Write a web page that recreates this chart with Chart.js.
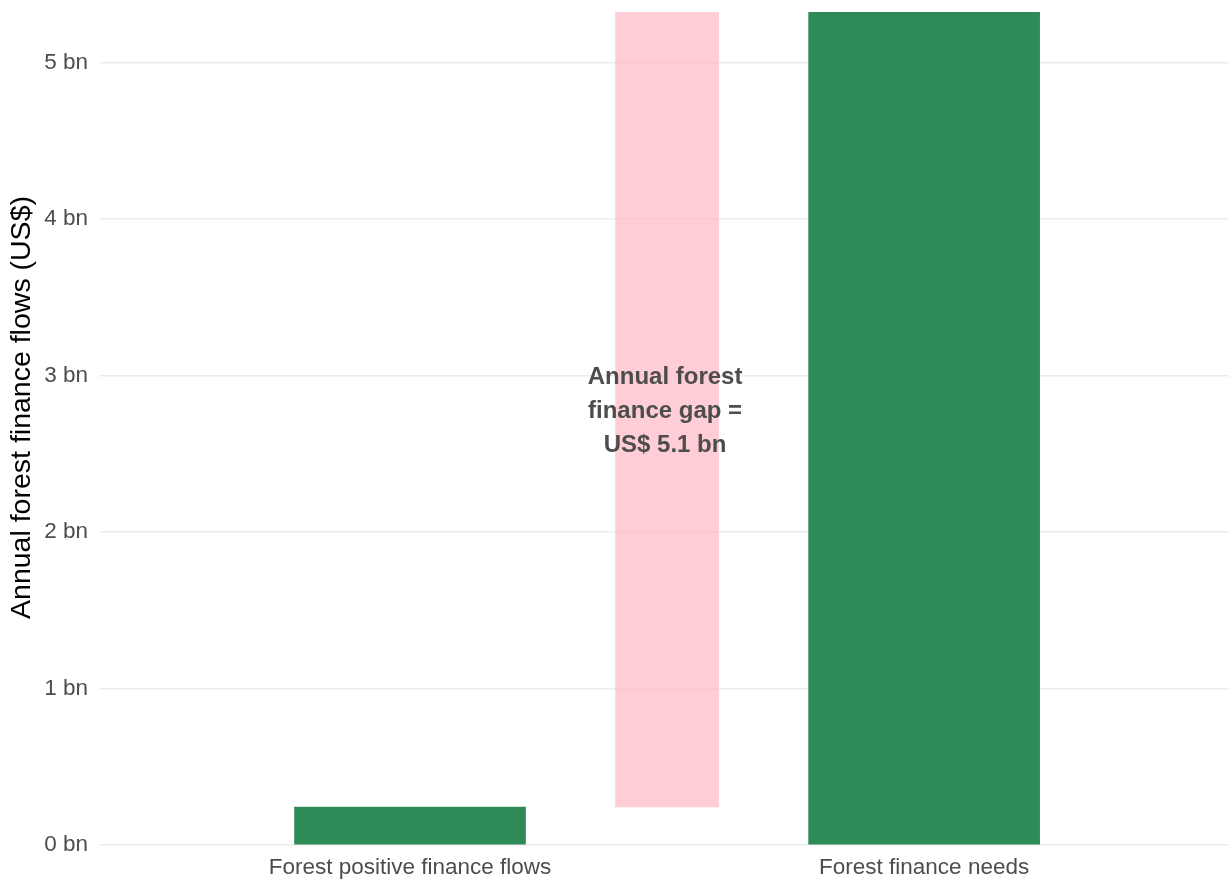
<!DOCTYPE html>
<html>
<head>
<meta charset="utf-8">
<script src="https://cdn.jsdelivr.net/npm/chart.js@4/dist/chart.umd.min.js"></script>
<style>
html,body{margin:0;padding:0;background:#fff;}
canvas{display:block;}
</style>
</head>
<body>
<canvas id="c" width="1229" height="879"></canvas>
<script>
const categories = ['Forest positive finance flows', 'Forest finance needs'];
const financeValues = [0.243, 5.325];           // US$ bn
const yTickValues = [0, 1, 2, 3, 4, 5];
const yTickLabels = ['0 bn', '1 bn', '2 bn', '3 bn', '4 bn', '5 bn'];
const gapLabelLines = ['Annual forest', 'finance gap =', 'US$ 5.1 bn'];
const yTitle = 'Annual forest finance flows (US$)';

const greenData = categories.map((c, i) => ({ x: i, y: [0, financeValues[i]] }));
const gapData = [{ x: 0.5, y: [financeValues[0], financeValues[1]] }];

const FONT = '"Liberation Sans", Arial, sans-serif';

const gapLabelPlugin = {
  id: 'gapLabel',
  afterDatasetsDraw(chart) {
    const { ctx, scales, chartArea } = chart;
    const x = scales.x.getPixelForValue(0.5) - 2;
    const yMid = scales.y.getPixelForValue((financeValues[0] + financeValues[1]) / 2) + 2;
    const lh = 34;
    ctx.save();
    ctx.font = 'bold 24px ' + FONT;
    ctx.fillStyle = '#4d4d4d';
    ctx.textAlign = 'center';
    ctx.textBaseline = 'middle';
    gapLabelLines.forEach((t, i) => {
      ctx.fillText(t, x, yMid + (i - (gapLabelLines.length - 1) / 2) * lh);
    });
    // y axis title
    ctx.font = '28.5px ' + FONT;
    ctx.fillStyle = '#000';
    ctx.translate(22, (chartArea.top + chartArea.bottom) / 2 - 21);
    ctx.rotate(-Math.PI / 2);
    ctx.fillText(yTitle, 0, 0);
    ctx.restore();
  }
};

new Chart(document.getElementById('c'), {
  type: 'bar',
  data: {
    datasets: [
      {
        label: 'Finance',
        data: greenData,
        backgroundColor: '#2e8b57',
        borderWidth: 0,
        barThickness: 231,
        grouped: false
      },
      {
        label: 'Gap',
        data: gapData,
        backgroundColor: 'rgba(255,192,203,0.8)',
        borderWidth: 0,
        barThickness: 103,
        grouped: false
      }
    ]
  },
  options: {
    responsive: false,
    animation: false,
    layout: { padding: { top: 12, right: 0, bottom: 0, left: 0 } },
    plugins: {
      legend: { display: false },
      tooltip: { enabled: false }
    },
    scales: {
      x: {
        type: 'linear',
        offset: false,
        min: -0.603,
        max: 1.593,
        grid: { display: false, drawTicks: false, offset: false },
        border: { display: false },
        afterBuildTicks(scale) {
          scale.ticks = categories.map((c, i) => ({ value: i }));
        },
        ticks: {
          autoSkip: false,
          maxRotation: 0,
          padding: 9,
          color: '#4d4d4d',
          font: { family: FONT, size: 22.5 },
          callback: (v) => categories[v]
        },
        afterFit(scale) { scale.height = 34; }
      },
      y: {
        min: 0,
        max: 5.325,
        grid: { color: '#ebebeb', lineWidth: 1.6, drawTicks: false },
        border: { display: false },
        afterBuildTicks(scale) {
          scale.ticks = yTickValues.map(v => ({ value: v }));
        },
        ticks: {
          padding: 12,
          color: '#4d4d4d',
          font: { family: FONT, size: 22.5 },
          callback: (v) => yTickLabels[yTickValues.indexOf(v)]
        },
        afterFit(scale) { scale.width = 100; scale.paddingTop = 0; }
      }
    }
  },
  plugins: [gapLabelPlugin]
});
</script>
</body>
</html>
